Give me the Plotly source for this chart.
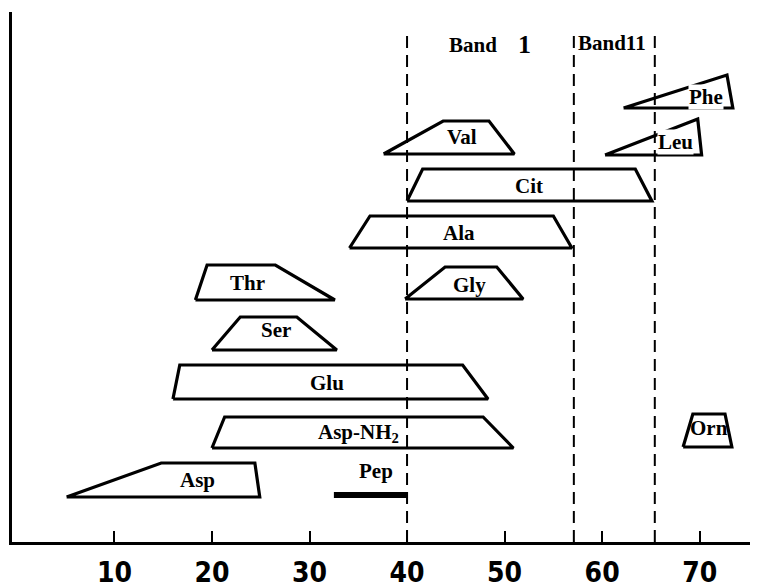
import plotly.graph_objects as go

# Amino-acid elution zones (x = fraction number, y = arbitrary row height)
names   = ["Asp", "Asp-NH<sub>2</sub>", "Glu", "Ser", "Thr", "Gly", "Ala", "Cit", "Val", "Leu", "Phe", "Orn"]
x_bl    = [5.1, 20.0, 16.0, 20.0, 18.3, 39.8, 34.1, 40.0, 37.6, 60.3, 62.2, 68.3]
x_tl    = [14.8, 21.3, 16.7, 22.9, 19.5, 43.9, 36.2, 41.6, 43.7, 69.8, 72.8, 69.3]
x_tr    = [24.4, 47.8, 45.7, 28.7, 26.5, 49.2, 55.0, 63.4, 48.4, 69.8, 72.8, 72.6]
x_br    = [24.9, 50.9, 48.3, 32.8, 32.6, 51.9, 56.9, 65.1, 51.0, 70.2, 73.4, 73.3]
y_bot   = [45, 94, 143, 192, 242, 243, 294, 341, 388, 387, 434, 95]
y_top   = [79, 125, 177, 225, 277, 275, 326, 373, 421, 423, 467, 128]
label_x = [18.5, 35.0, 31.8, 26.6, 23.6, 46.4, 45.3, 52.5, 45.6, 67.5, 70.6, 71.0]
label_y = [62, 109, 159, 212, 259, 257, 309, 356, 405, 400, 445, 114]
label_bg = [False, False, False, False, False, False, False, False, False, True, True, False]

# Peptide bar
pep_x = [32.5, 40.1]
pep_y = 47
pep_label = (36.8, 71)

# Band boundaries (dashed)
band_x = [40.0, 57.1, 65.4]
band_top = 507

tick_vals = [10, 20, 30, 40, 50, 60, 70]
tick_text = ["10", "20", "30", "40", "50", "60", "70"]

serif = "Liberation Serif, DejaVu Serif, serif"

fig = go.Figure()

for xb in band_x:
    fig.add_trace(go.Scatter(x=[xb, xb], y=[0, band_top], mode="lines",
                             line=dict(color="black", width=2, dash="12px,7px"),
                             hoverinfo="skip", showlegend=False))

for i, n in enumerate(names):
    xs = [x_bl[i], x_tl[i], x_tr[i], x_br[i], x_bl[i]]
    ys = [y_bot[i], y_top[i], y_top[i], y_bot[i], y_bot[i]]
    fig.add_trace(go.Scatter(x=xs, y=ys, mode="lines",
                             line=dict(color="black", width=3.2),
                             hoverinfo="skip", showlegend=False))

fig.add_trace(go.Scatter(x=pep_x, y=[pep_y, pep_y], mode="lines",
                         line=dict(color="black", width=6),
                         hoverinfo="skip", showlegend=False))

annotations = []
for i, n in enumerate(names):
    a = dict(x=label_x[i], y=label_y[i], text="<b>%s</b>" % n, showarrow=False,
             font=dict(family=serif, size=21, color="black"))
    if label_bg[i]:
        a["bgcolor"] = "white"
        a["borderpad"] = 0
    annotations.append(a)
annotations.append(dict(x=pep_label[0], y=pep_label[1], text="<b>Pep</b>", showarrow=False,
                        font=dict(family=serif, size=21, color="black")))
annotations.append(dict(x=46.8, y=497, text="<b>Band</b>", showarrow=False,
                        font=dict(family=serif, size=21, color="black")))
annotations.append(dict(x=52.0, y=498, text="<b>1</b>", showarrow=False,
                        font=dict(family=serif, size=26, color="black")))
annotations.append(dict(x=61.0, y=499, text="<b>Band11</b>", showarrow=False,
                        font=dict(family=serif, size=21, color="black"),
                        bgcolor="white", borderpad=0))

# The page body adds an 8 px offset, so margins compensate for it.
fig.update_layout(
    width=758, height=582,
    margin=dict(l=4, r=0, t=4, b=48),
    paper_bgcolor="white", plot_bgcolor="white",
    showlegend=False,
    annotations=annotations,
    xaxis=dict(range=[-0.5, 76.8], showgrid=False, zeroline=False,
               showline=True, linecolor="black", linewidth=3,
               tickvals=tick_vals, ticktext=tick_text,
               ticks="inside", ticklen=11, tickwidth=2, tickcolor="black",
               tickfont=dict(family="Liberation Sans Narrow, DejaVu Sans Condensed, sans-serif",
                             size=28, color="black", weight="bold"),
               ticklabelstandoff=3),
    yaxis=dict(range=[0, 530], showgrid=False, zeroline=False,
               showline=True, linecolor="black", linewidth=3,
               showticklabels=False, ticks=""),
)

fig.write_html("out.html")
